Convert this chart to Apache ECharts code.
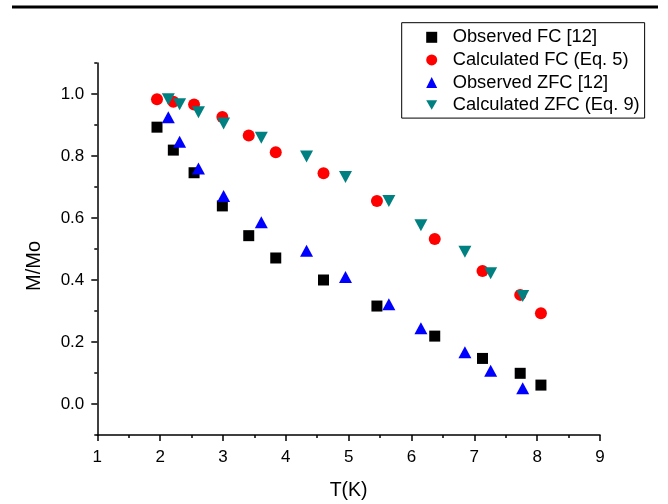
<!DOCTYPE html>
<html>
<head>
<meta charset="utf-8">
<script src="https://cdn.jsdelivr.net/npm/echarts@6/dist/echarts.min.js"></script>
<style>
html,body{margin:0;padding:0;background:#fff;}
#chart{width:668px;height:504px;}
</style>
</head>
<body>
<div id="chart"></div>
<script>
// ---- data ----
const seriesNames = ['Observed FC [12]', 'Calculated FC (Eq. 5)', 'Observed ZFC [12]', 'Calculated ZFC (Eq. 9)'];
const fcT = [1.95, 2.21, 2.54, 2.99, 3.41, 3.84, 4.60, 5.45, 6.37, 7.13, 7.73, 8.06];
const obsFC = [0.893, 0.819, 0.746, 0.639, 0.543, 0.471, 0.400, 0.316, 0.219, 0.147, 0.099, 0.061];
const calcFC = [0.983, 0.975, 0.966, 0.926, 0.866, 0.812, 0.744, 0.655, 0.532, 0.429, 0.352, 0.293];
const zfcT = [2.13, 2.31, 2.61, 3.01, 3.61, 4.33, 4.95, 5.64, 6.15, 6.85, 7.26, 7.77];
const obsZFC = [0.925, 0.846, 0.760, 0.671, 0.586, 0.494, 0.410, 0.322, 0.244, 0.167, 0.107, 0.051];
const calcZFC = [0.983, 0.967, 0.941, 0.905, 0.859, 0.798, 0.732, 0.655, 0.577, 0.491, 0.422, 0.348];
const xTicks = [1, 2, 3, 4, 5, 6, 7, 8, 9];
const yTicks = [0.0, 0.2, 0.4, 0.6, 0.8, 1.0];

const pair = (xs, ys) => xs.map((x, i) => [x, ys[i]]);
const FONT = 'Liberation Sans, Arial, sans-serif';

const chart = echarts.init(document.getElementById('chart'), null, {renderer: 'canvas'});
const gridLeft = 97.3, gridRight = 68, gridTop = 63, gridBottom = 69;

chart.setOption({
  backgroundColor: '#fff',
  animation: false,
  graphic: [{
    type: 'line', shape: {x1: 12, y1: 7, x2: 658, y2: 7},
    style: {stroke: '#000', lineWidth: 3}
  }],
  legend: {
    orient: 'vertical',
    left: 401.7, top: 22.7,
    padding: [5.6, 5, 4, 24.5],
    itemWidth: 11, itemHeight: 11, itemGap: 4.6,
    borderColor: '#000', borderWidth: 1,
    textStyle: {fontFamily: FONT, fontSize: 18.3, color: '#000', lineHeight: 18, padding: [0, 0, 0, 10.5]},
    data: [
      {name: seriesNames[0]},
      {name: seriesNames[1]},
      {name: seriesNames[2]},
      {name: seriesNames[3], icon: 'path://M0,0L12,0L6,10.4Z'}
    ]
  },
  grid: [
    {left: gridLeft, right: gridRight, top: gridTop, bottom: gridBottom, containLabel: false, outerBoundsMode: 'none'},
    {left: gridLeft, right: gridRight, top: 94, bottom: 100, containLabel: false, outerBoundsMode: 'none'}
  ],
  xAxis: [{
    gridIndex: 0, type: 'value', min: xTicks[0], max: xTicks[xTicks.length - 1], interval: 1,
    name: 'T(K)', nameLocation: 'middle', nameGap: 46,
    nameTextStyle: {fontFamily: FONT, fontSize: 19.5, color: '#000'},
    axisLine: {onZero: false, lineStyle: {color: '#000', width: 1.5}},
    axisTick: {show: true, inside: false, length: 6, lineStyle: {color: '#000', width: 1.5}},
    minorTick: {show: true, splitNumber: 2, length: 3, lineStyle: {color: '#000', width: 1.5}},
    axisLabel: {fontFamily: FONT, fontSize: 17, color: '#000', margin: 14},
    splitLine: {show: false}
  }, {
    gridIndex: 1, type: 'value', min: 1, max: 9, show: false
  }],
  yAxis: [{
    gridIndex: 0, type: 'value', min: -0.1, max: 1.1, interval: 0.1,
    axisLine: {show: true, onZero: false, lineStyle: {color: '#000', width: 1.5}},
    axisTick: {show: true, inside: false, length: 3, lineStyle: {color: '#000', width: 1.5}},
    axisLabel: {show: false},
    splitLine: {show: false}
  }, {
    gridIndex: 1, type: 'value', min: yTicks[0], max: yTicks[yTicks.length - 1], interval: 0.2,
    name: 'M/Mo', nameLocation: 'middle', nameGap: 53,
    nameTextStyle: {fontFamily: FONT, fontSize: 20, color: '#000', padding: [0, 34, 0, 0]},
    axisLine: {show: false, onZero: false},
    axisTick: {show: true, inside: false, length: 6, lineStyle: {color: '#000', width: 1.5}},
    axisLabel: {fontFamily: FONT, fontSize: 17, color: '#000', margin: 13,
      formatter: v => v.toFixed(1)},
    splitLine: {show: false}
  }],
  series: [
    {name: seriesNames[0], type: 'scatter', xAxisIndex: 0, yAxisIndex: 0, symbol: 'rect', symbolSize: 11,
     itemStyle: {color: '#000000', opacity: 1}, data: pair(fcT, obsFC)},
    {name: seriesNames[1], type: 'scatter', xAxisIndex: 0, yAxisIndex: 0, symbol: 'circle', symbolSize: 12,
     itemStyle: {color: '#ff0000', opacity: 1}, data: pair(fcT, calcFC)},
    {name: seriesNames[2], type: 'scatter', xAxisIndex: 0, yAxisIndex: 0, symbol: 'triangle', symbolSize: [13, 12],
     itemStyle: {color: '#0000ff', opacity: 1}, data: pair(zfcT, obsZFC)},
    {name: seriesNames[3], type: 'scatter', xAxisIndex: 0, yAxisIndex: 0, symbol: 'triangle', symbolRotate: 180, symbolSize: [13, 12],
     itemStyle: {color: '#008080', opacity: 1}, data: pair(zfcT, calcZFC)}
  ]
});
</script>
</body>
</html>
